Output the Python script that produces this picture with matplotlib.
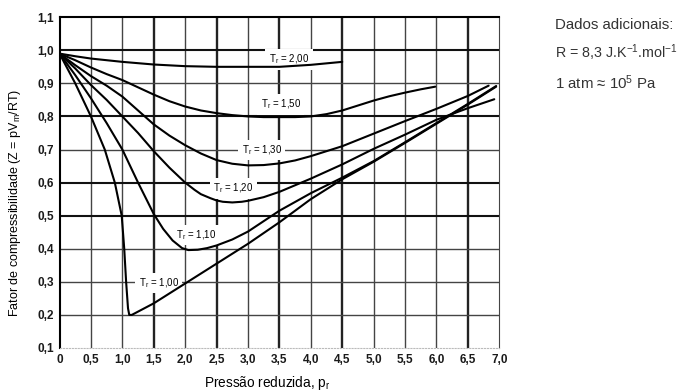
import matplotlib
matplotlib.use('Agg')
import matplotlib.pyplot as plt

plt.rcParams['font.family'] = ['Liberation Sans', 'DejaVu Sans']
plt.rcParams['mathtext.fontset'] = 'custom'
plt.rcParams['mathtext.rm'] = 'Liberation Sans'
plt.rcParams['mathtext.it'] = 'Liberation Sans:italic'

# curvas Z x pr
pr_200 = [0, 0.25, 0.5, 1.0, 1.5, 2.0, 2.5, 3.0, 3.5, 4.0, 4.5]
z_200 = [0.99, 0.982, 0.975, 0.965, 0.957, 0.952, 0.95, 0.95, 0.95, 0.956, 0.965]

pr_150 = [0, 0.25, 0.5, 0.75, 1.0, 1.25, 1.5, 1.75, 2.0, 2.25, 2.5, 2.75, 3.0,
          3.25, 3.5, 3.75, 4.0, 4.25, 4.5, 4.75, 5.0, 5.25, 5.5, 5.75, 5.98]
z_150 = [0.99, 0.97, 0.948, 0.928, 0.91, 0.888, 0.866, 0.846, 0.83, 0.818, 0.81,
         0.804, 0.80, 0.798, 0.798, 0.798, 0.80, 0.807, 0.818, 0.833, 0.848, 0.861,
         0.872, 0.882, 0.89]

pr_130 = [0, 0.25, 0.5, 0.75, 1.0, 1.25, 1.5, 1.75, 2.0, 2.25, 2.5, 2.75, 3.0,
          3.25, 3.5, 3.75, 4.0, 4.5, 5.0, 5.5, 6.0, 6.5, 6.83]
z_130 = [0.99, 0.955, 0.922, 0.893, 0.86, 0.818, 0.776, 0.742, 0.713, 0.688, 0.668,
         0.657, 0.652, 0.653, 0.658, 0.667, 0.68, 0.71, 0.748, 0.786, 0.823, 0.862, 0.893]

pr_120 = [0, 0.25, 0.5, 0.75, 1.0, 1.25, 1.5, 1.75, 2.0, 2.15, 2.25, 2.4, 2.5,
          2.6, 2.75, 2.9, 3.0, 3.25, 3.5, 4.0, 4.5, 5.0, 5.5, 6.0, 6.5, 6.92]
z_120 = [0.99, 0.945, 0.895, 0.85, 0.80, 0.75, 0.695, 0.645, 0.60, 0.578, 0.565,
         0.553, 0.546, 0.542, 0.54, 0.542, 0.545, 0.556, 0.572, 0.612, 0.655, 0.702,
         0.745, 0.79, 0.825, 0.852]

pr_110 = [0, 0.25, 0.5, 0.75, 1.0, 1.25, 1.5, 1.65, 1.8, 1.95, 2.05, 2.2, 2.35,
          2.5, 2.75, 3.0, 3.5, 4.0, 4.5, 5.0, 5.5, 6.0, 6.5, 6.95]
z_110 = [0.99, 0.925, 0.855, 0.78, 0.70, 0.60, 0.505, 0.46, 0.425, 0.402, 0.396,
         0.397, 0.402, 0.41, 0.428, 0.452, 0.515, 0.568, 0.615, 0.665, 0.722, 0.78,
         0.838, 0.892]

pr_100 = [0, 0.25, 0.5, 0.72, 0.88, 0.99, 1.03, 1.06, 1.09, 1.11, 1.15, 1.2,
          1.5, 2.0, 2.5, 3.0, 3.5, 4.0, 4.5, 5.0, 5.5, 6.0, 6.5, 6.95]
z_100 = [0.99, 0.90, 0.80, 0.70, 0.60, 0.50, 0.40, 0.30, 0.22, 0.20, 0.20, 0.205,
         0.235, 0.295, 0.355, 0.415, 0.48, 0.55, 0.61, 0.663, 0.72, 0.778, 0.836, 0.89]

curvas = [(pr_200, z_200), (pr_150, z_150), (pr_130, z_130),
          (pr_120, z_120), (pr_110, z_110), (pr_100, z_100)]

# rotulos das curvas (texto, pr, Z)
rotulos = [('2,00', 3.65, 0.973), ('1,50', 3.52, 0.837), ('1,30', 3.22, 0.698),
           ('1,20', 2.77, 0.583), ('1,10', 2.17, 0.441), ('1,00', 1.58, 0.296)]

xticks = [0, 0.5, 1.0, 1.5, 2.0, 2.5, 3.0, 3.5, 4.0, 4.5, 5.0, 5.5, 6.0, 6.5, 7.0]
yticks = [0.1, 0.2, 0.3, 0.4, 0.5, 0.6, 0.7, 0.8, 0.9, 1.0, 1.1]

fig = plt.figure(figsize=(6.85, 3.91), dpi=100)
ax = fig.add_axes([0.0869, 0.110, 0.642, 0.846])
ax.set_xlim(0, 7)
ax.set_ylim(0.1, 1.1)

# grade: algumas linhas mais grossas, como no original escaneado
grossas_x = [1.5, 2.5, 3.5, 4.5, 6.5]
for x in xticks[1:-1]:
    if x in grossas_x:
        ax.axvline(x, color='#222222', lw=1.7, zorder=1)
    else:
        ax.axvline(x, color='#444444', lw=1.0, zorder=1)
grossas_y = [1.0, 0.8, 0.6, 0.5]
for y in yticks[1:-1]:
    if y in grossas_y:
        ax.axhline(y, color='#111111', lw=1.5, zorder=1)
    else:
        ax.axhline(y, color='#444444', lw=1.0, zorder=1)

for pr, z in curvas:
    ax.plot(pr, z, color='black', lw=1.5, zorder=3, solid_capstyle='round',
            solid_joinstyle='round')

for txt, x, y in rotulos:
    ax.text(x, y, '$\\mathregular{T_r}$ = ' + txt, fontsize=7, ha='center', va='center',
            zorder=2, bbox=dict(facecolor='white', edgecolor='none', pad=2.5))

ax.spines['top'].set_linewidth(1.5)
ax.spines['left'].set_linewidth(1.5)
ax.spines['right'].set_color('#444444')
ax.spines['bottom'].set_color('#bbbbbb')
ax.spines['bottom'].set_linestyle(':')

ax.set_xticks(xticks)
ax.set_xticklabels(['0'] + [f'{v:.1f}'.replace('.', ',') for v in xticks[1:]])
ax.set_yticks(yticks)
ax.set_yticklabels([f'{v:.1f}'.replace('.', ',') for v in yticks])
ax.tick_params(length=0, labelsize=8.5, pad=4)
for lb in ax.get_xticklabels() + ax.get_yticklabels():
    lb.set_fontweight('bold')
    lb.set_color('#1a1a1a')

ax.set_xlabel('Pressão reduzida, $\\mathregular{p_r}$', fontsize=9.8)
ax.xaxis.set_label_coords(0.472, -0.08)
ax.set_ylabel('Fator de compressibilidade (Z = p$\\mathregular{V_m}$/RT)', fontsize=9)
ax.yaxis.set_label_coords(-0.083, 0.44)

# dados adicionais
fig.text(0.810, 0.935, 'Dados adicionais:', fontsize=10.8, color='#333333', va='center')
fig.text(0.810, 0.866, 'R = 8,3 J.K$^{\\mathregular{-1}}$.mol$^{\\mathregular{-1}}$',
         fontsize=10.3, color='#333333', va='center')
fig.text(0.810, 0.788, '1 atm ≈ 10$^{\\mathregular{5}}$ Pa', fontsize=10.8,
         color='#333333', va='center')

fig.savefig('out.png', dpi=100)
